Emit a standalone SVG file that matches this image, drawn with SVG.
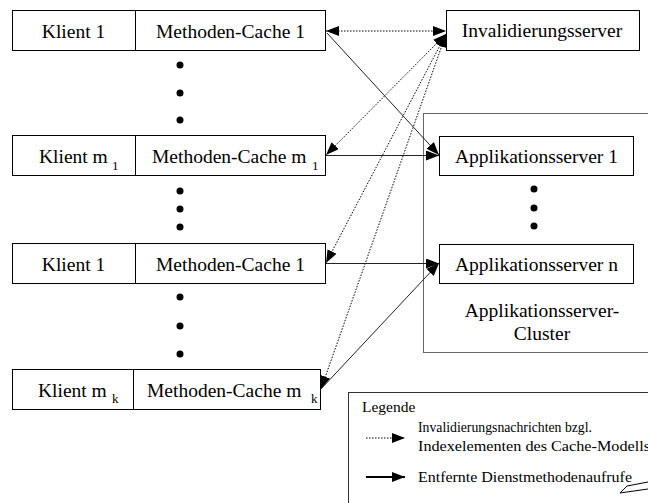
<svg xmlns="http://www.w3.org/2000/svg" width="648" height="503" viewBox="0 0 648 503">
<style>
text{font-family:'Liberation Serif','Tinos','Nimbus Roman','DejaVu Serif',serif;fill:#000}
.t{font-size:19.5px}
.m{text-anchor:middle}
.sub{font-size:13px}
.lg{font-size:15.5px}
.box{fill:#fff;stroke:#000;stroke-width:1}
.dot{fill:#000}
.dash{fill:none;stroke:#000;stroke-width:1;stroke-dasharray:1.5 1.5}
.sol{fill:none;stroke:#222;stroke-width:1}
</style>
<defs>
<marker id="ah" markerUnits="userSpaceOnUse" markerWidth="13" markerHeight="10" refX="13" refY="5" orient="auto-start-reverse">
<path d="M0,0 L13,5 L0,10 z" fill="#000"/>
</marker>
</defs>
<rect x="0" y="0" width="648" height="503" fill="#fff"/>

<g id="cluster">
<rect x="423.5" y="113.5" width="240" height="239" fill="none" stroke="#666" stroke-width="1"/>
<text class="t m" x="542" y="317">Applikationsserver-</text>
<text class="t m" x="542" y="340">Cluster</text>
</g>

<g id="row1">
<rect class="box" x="12.5" y="10.5" width="313" height="40"/>
<line x1="135.5" y1="10.5" x2="135.5" y2="50.5" stroke="#000"/>
<text class="t m" x="73.5" y="38">Klient 1</text>
<text class="t m" x="230.5" y="38">Methoden-Cache 1</text>
</g>
<g id="dots1">
<circle class="dot" cx="180" cy="65" r="3.5"/>
<circle class="dot" cx="180" cy="93" r="3.5"/>
<circle class="dot" cx="180" cy="120" r="3.5"/>
</g>

<g id="row2">
<rect class="box" x="12.5" y="135.5" width="313" height="40"/>
<line x1="135.5" y1="135.5" x2="135.5" y2="175.5" stroke="#000"/>
<text class="t" x="39" y="163">Klient m</text>
<text class="sub" x="112" y="170">1</text>
<text class="t" x="152" y="163">Methoden-Cache m</text>
<text class="sub" x="312" y="170">1</text>
</g>
<g id="dots2">
<circle class="dot" cx="180" cy="191" r="3.5"/>
<circle class="dot" cx="180" cy="209" r="3.5"/>
<circle class="dot" cx="180" cy="227" r="3.5"/>
</g>

<g id="row3">
<rect class="box" x="12.5" y="243.5" width="313" height="40"/>
<line x1="135.5" y1="243.5" x2="135.5" y2="283.5" stroke="#000"/>
<text class="t m" x="73.5" y="271">Klient 1</text>
<text class="t m" x="230.5" y="271">Methoden-Cache 1</text>
</g>
<g id="dots3">
<circle class="dot" cx="180" cy="297" r="3.5"/>
<circle class="dot" cx="180" cy="326" r="3.5"/>
<circle class="dot" cx="180" cy="354" r="3.5"/>
</g>

<g id="row4">
<rect class="box" x="12.5" y="369.5" width="308" height="40"/>
<line x1="133.5" y1="369.5" x2="133.5" y2="409.5" stroke="#000"/>
<text class="t" x="38" y="397">Klient m</text>
<text class="sub" x="112" y="403">k</text>
<text class="t" x="147" y="397">Methoden-Cache m</text>
<text class="sub" x="311" y="403">k</text>
</g>

<g id="invalidierungsserver">
<rect class="box" x="446.5" y="10.5" width="193" height="40"/>
<text class="t m" x="542" y="37">Invalidierungsserver</text>
</g>

<g id="appserver1">
<rect class="box" x="439.5" y="136.5" width="194" height="39"/>
<text class="t m" x="536.5" y="163">Applikationsserver 1</text>
</g>
<g id="appdots">
<circle class="dot" cx="534" cy="189" r="3.5"/>
<circle class="dot" cx="534" cy="208" r="3.5"/>
<circle class="dot" cx="534" cy="226" r="3.5"/>
</g>
<g id="appservern">
<rect class="box" x="439.5" y="244.5" width="194" height="39"/>
<text class="t m" x="536.5" y="271">Applikationsserver n</text>
</g>

<g id="connectors">
<line class="dash" x1="326" y1="31" x2="446" y2="31" marker-start="url(#ah)" marker-end="url(#ah)"/>
<line class="dash" x1="446" y1="34" x2="326" y2="155" marker-start="url(#ah)" marker-end="url(#ah)"/>
<line class="dash" x1="446" y1="34" x2="326" y2="263" marker-start="url(#ah)" marker-end="url(#ah)"/>
<line class="dash" x1="446" y1="34" x2="321" y2="389" marker-start="url(#ah)" marker-end="url(#ah)"/>
<line class="sol" x1="327" y1="33" x2="439" y2="155" marker-end="url(#ah)"/>
<line class="sol" x1="326" y1="155.5" x2="439" y2="155.5" marker-end="url(#ah)"/>
<line class="sol" x1="326" y1="263.5" x2="439" y2="263.5" marker-end="url(#ah)"/>
<line class="sol" x1="321" y1="389" x2="439" y2="263" marker-end="url(#ah)"/>
</g>

<g id="legend">
<rect x="348.5" y="392.5" width="320" height="130" fill="none" stroke="#333" stroke-width="1"/>
<text class="lg" x="362" y="412">Legende</text>
<line class="dash" x1="366" y1="438" x2="405" y2="438" marker-end="url(#ah)"/>
<text class="lg" x="418" y="432" textLength="174" lengthAdjust="spacingAndGlyphs">Invalidierungsnachrichten bzgl.</text>
<text class="lg" x="418" y="451" textLength="232" lengthAdjust="spacingAndGlyphs">Indexelementen des Cache-Modells</text>
<line x1="366" y1="477" x2="405" y2="477" stroke="#000" stroke-width="2" marker-end="url(#ah)"/>
<text class="lg" x="418" y="482" textLength="214" lengthAdjust="spacingAndGlyphs">Entfernte Dienstmethodenaufrufe</text>
<polyline points="648,482 627,486 620,493 648,489" fill="none" stroke="#000" stroke-width="1"/>
</g>
</svg>
